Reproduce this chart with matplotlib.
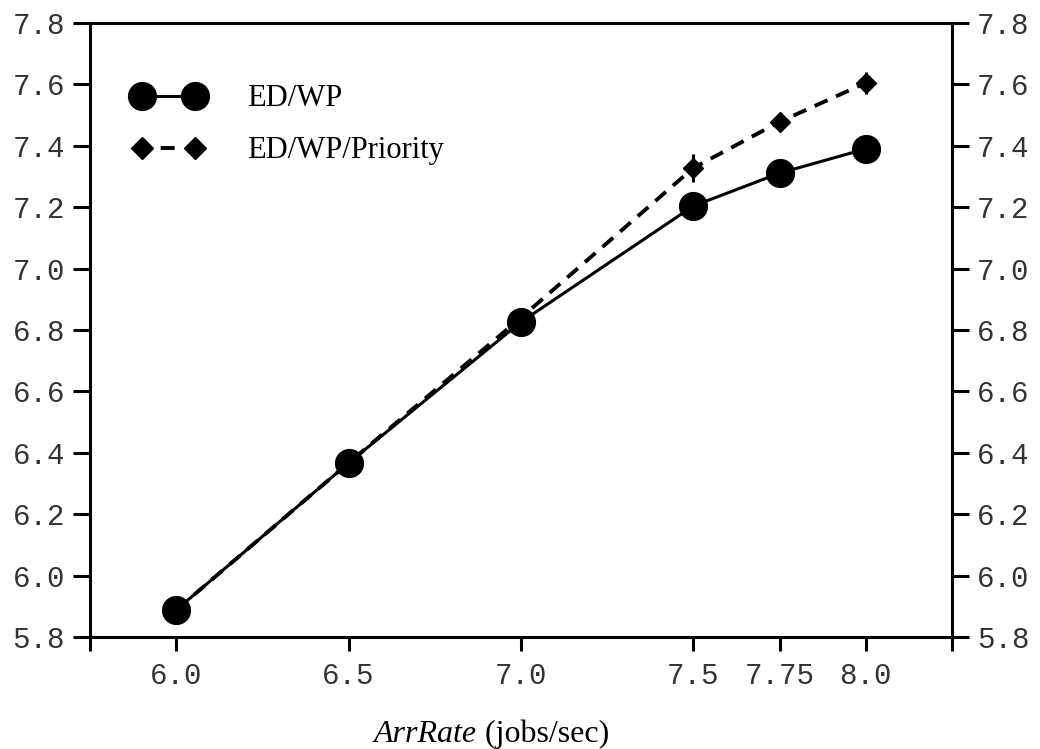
import numpy as np
import matplotlib.pyplot as plt
from matplotlib.lines import Line2D

# valeurs
arr_rate = [6.0, 6.5, 7.0, 7.5, 7.75, 8.0]
ed_wp = [5.888, 6.367, 6.826, 7.204, 7.311, 7.390]
ed_wp_prio = [5.888, 6.367, 6.840, 7.328, 7.478, 7.605]
err_prio = [0.0, 0.0, 0.03, 0.045, 0.02, 0.035]

xticks = [5.75, 6.0, 6.5, 7.0, 7.5, 7.75, 8.0, 8.25]
xlabels = ['', '6.0', '6.5', '7.0', '7.5', '7.75', '8.0', '']
yticks = [5.8, 6.0, 6.2, 6.4, 6.6, 6.8, 7.0, 7.2, 7.4, 7.6, 7.8]

mono = 'Liberation Mono'
serif = 'Liberation Serif'

fig = plt.figure(figsize=(10.4, 7.49), dpi=100)
ax = fig.add_axes([90/1040, 1 - 637/749, (952-90)/1040, (637-23)/749])

# courbe en pointillés d'abord (derrière les cercles)
ax.errorbar(arr_rate, ed_wp_prio, yerr=err_prio, color='black', lw=2.8,
            ls=(0, (3.6, 2.4)), marker='D', ms=10, elinewidth=2.2,
            capsize=0, zorder=2)
ax.plot(arr_rate, ed_wp, color='black', lw=2.2, marker='o', ms=20, zorder=3)

ax.set_xlim(5.75, 8.25)
ax.set_ylim(5.8, 7.8)
ax.set_xticks(xticks)
ax.set_xticklabels(xlabels, fontfamily=mono, fontsize=21)
ax.set_yticks(yticks)
ax.set_yticklabels(['%.1f' % v for v in yticks], fontfamily=mono, fontsize=21)
ax.tick_params(axis='x', direction='out', length=10, width=2.2, pad=8)
ax.tick_params(axis='y', direction='out', length=12, width=2.2, pad=6,
               left=True, right=True, labelleft=True, labelright=True)
for s in ax.spines.values():
    s.set_linewidth(2.2)

for t in ax.yaxis.get_major_ticks():
    t.label2.set_fontfamily(mono)
    t.label2.set_fontsize(21)
    t.label2.set_color('#333333')
    t.label1.set_color('#333333')
for t in ax.xaxis.get_major_ticks():
    t.label1.set_color('#333333')

h1 = Line2D([], [], color='black', lw=2.2, marker='o', ms=20)
h2 = Line2D([], [], color='black', lw=2.8, ls=(5.2, (3.6, 6.4)), marker='D', ms=11)
leg = ax.legend([h1, h2], ['ED/WP', 'ED/WP/Priority'], loc='upper left',
                bbox_to_anchor=(0.05, 0.90), frameon=False, numpoints=2,
                handlelength=2.33, handletextpad=1.4, labelspacing=0.75,
                borderpad=0, borderaxespad=0,
                prop={'family': serif, 'size': 22})

# titre de l'axe x : "ArrRate" en italique
fig.text(0.459, 0.02, 'ArrRate', ha='right', va='center',
         fontfamily=serif, fontstyle='italic', fontsize=23)
fig.text(0.459, 0.02, ' (jobs/sec)', ha='left', va='center',
         fontfamily=serif, fontsize=23)

fig.savefig('out.png', dpi=100)
